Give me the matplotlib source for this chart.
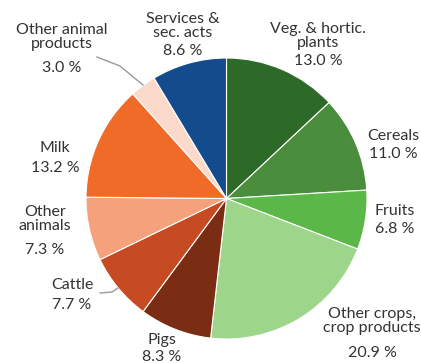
import numpy as np
import matplotlib
matplotlib.use("Agg")
import matplotlib.pyplot as plt

plt.rcParams['font.family'] = ['Lato', 'DejaVu Sans']

# agricultural output shares, clockwise from 12 o'clock
categories = ["Veg. & hortic.\nplants", "Cereals", "Fruits", "Other crops,\ncrop products",
              "Pigs", "Cattle", "Other\nanimals", "Milk", "Other animal\nproducts",
              "Services &\nsec. acts"]
shares = [13.0, 11.0, 6.8, 20.9, 8.3, 7.7, 7.3, 13.2, 3.0, 8.6]
colors = ["#2d6a27", "#4a8e3d", "#5bb748", "#9dd58a", "#7b2d14", "#c64a22",
          "#f5a27c", "#f06b27", "#fbdacb", "#134b8c"]

W, H = 421, 363
fig = plt.figure(figsize=(W / 100, H / 100), dpi=100)
ax = fig.add_axes([0, 0, 1, 1])

cx, cy, r = 226.5, H - 198.5, 140.5
ax.pie(shares, colors=colors, startangle=90, counterclock=False,
       center=(cx, cy), radius=r,
       wedgeprops=dict(edgecolor="white", linewidth=0.8))
ax.set_xlim(0, W)
ax.set_ylim(0, H)
ax.set_aspect("equal")
ax.axis("off")

# label x, name-block centre y, value-line y (pixels, y from top)
label_pos = [(318, 36, 61), (393, 136, 154), (395, 211, 229), (372, 321, 353),
             (162, 340, 357), (72, 285, 305), (45, 219, 250), (55, 148, 168),
             (62, 37, 68), (183, 26, 51)]

txt = "#333333"
for name, val, (x, yn, yv) in zip(categories, shares, label_pos):
    ax.text(x, H - yn, name, ha="center", va="center",
            fontsize=11.5, color=txt, linespacing=1.0)
    ax.text(x, H - yv, f"{val:.1f} %", ha="center", va="center",
            fontsize=11.5, color=txt)

# leader lines
ax.plot([97, 120, 143], [H - 57, H - 66, H - 85], color="#999999", lw=1)
ax.plot([100, 112, 118], [H - 293, H - 292, H - 288], color="#999999", lw=1)

fig.savefig("out.png", dpi=100)
